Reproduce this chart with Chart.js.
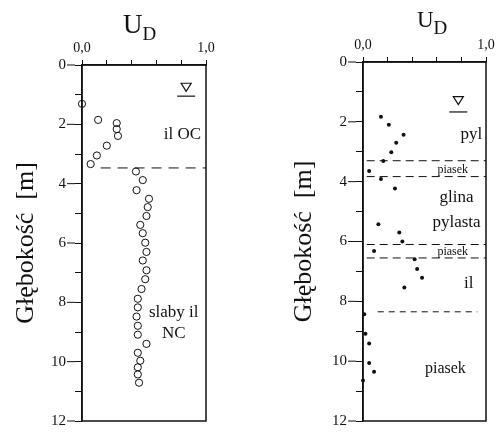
<!DOCTYPE html>
<html>
<head>
<meta charset="utf-8">
<script src="https://cdn.jsdelivr.net/npm/chart.js@4/dist/chart.umd.min.js"></script>
<style>
  body { margin: 0; background: #fff; }
  #wrap { position: relative; width: 498px; height: 439px; }
  canvas { position: absolute; top: 0; }
</style>
</head>
<body>
<div id="wrap">
  <canvas id="leftChart" width="249" height="439" style="left:0"></canvas>
  <canvas id="rightChart" width="249" height="439" style="left:249px"></canvas>
</div>
<script>
// lewy profil - ił (kółka puste)
const leftDepth = [1.31, 1.85, 1.96, 2.16, 2.39, 2.72, 3.05, 3.34,
  3.59, 3.88, 4.22, 4.51, 4.79, 5.09, 5.39, 5.67, 5.99, 6.30, 6.59, 6.92, 7.22,
  7.55, 7.88, 8.17, 8.48, 8.79, 9.09, 9.40, 9.70, 9.97, 10.19, 10.43, 10.71];
const leftUD = [0.00, 0.13, 0.28, 0.28, 0.29, 0.20, 0.12, 0.07,
  0.435, 0.49, 0.44, 0.54, 0.53, 0.52, 0.47, 0.49, 0.51, 0.52, 0.49, 0.52, 0.51,
  0.48, 0.45, 0.45, 0.44, 0.45, 0.45, 0.52, 0.45, 0.47, 0.45, 0.45, 0.46];

// prawy profil (punkty pełne)
const rightDepth = [1.83, 2.10, 2.43, 2.70, 3.02, 3.31, 3.64, 3.91, 4.23,
  5.42, 5.70, 6.00, 6.32, 6.59, 6.92, 7.21, 7.54,
  8.43, 9.08, 9.41, 10.06, 10.35, 10.65];
const rightUD = [0.146, 0.21, 0.33, 0.27, 0.23, 0.165, 0.05, 0.146, 0.26,
  0.125, 0.295, 0.32, 0.09, 0.42, 0.44, 0.48, 0.336,
  0.01, 0.02, 0.05, 0.05, 0.09, 0.00];

// granice warstw [m]
const leftLayers = [3.47];
const rightLayers = [3.30, 3.83, 6.10, 6.55];
const rightLayerSand = [8.35];

const xTickLabels = ["0,0", "1,0"];
const yTickLabels = [0, 2, 4, 6, 8, 10, 12];

const serif = "'Liberation Serif', 'Times New Roman', serif";

function toPoints(xs, ys) {
  return xs.map((x, i) => ({ x: x, y: ys[i] }));
}

// ramka, linie warstw, opisy
const decor = {
  id: "decor",
  afterDraw(chart, args, opts) {
    const ctx = chart.ctx;
    const a = chart.chartArea;
    const xs = chart.scales.x, ys = chart.scales.y;
    const px = v => xs.getPixelForValue(v);
    const py = v => ys.getPixelForValue(v);
    ctx.save();
    ctx.strokeStyle = "#111";
    ctx.lineWidth = 1.5;
    ctx.strokeRect(a.left, a.top, a.right - a.left, a.bottom - a.top);

    // dłuższe kreski przy opisanych podziałkach
    ctx.lineWidth = 1;
    yTickLabels.forEach(v => {
      ctx.beginPath();
      ctx.moveTo(a.left - 15, py(v));
      ctx.lineTo(a.left - 7, py(v));
      ctx.stroke();
    });

    (opts.lines || []).forEach(l => {
      ctx.setLineDash(l.dash);
      ctx.lineWidth = 1;
      ctx.beginPath();
      ctx.moveTo(px(l.from), py(l.depth));
      ctx.lineTo(px(l.to), py(l.depth));
      ctx.stroke();
    });
    ctx.setLineDash([]);

    // U_D
    const t = opts.title;
    ctx.fillStyle = "#111";
    ctx.textBaseline = "alphabetic";
    ctx.textAlign = "left";
    ctx.font = t.size + "px " + serif;
    ctx.fillText("U", t.x, t.y);
    const w = ctx.measureText("U").width;
    ctx.font = t.sub + "px " + serif;
    ctx.fillText("D", t.x + w, t.y + 7);

    // poziom wody
    const wl = opts.water;
    const wx = px(wl.u), wy = py(wl.d);
    ctx.lineWidth = 1.2;
    ctx.beginPath();
    ctx.moveTo(wx - 5, wy - 4);
    ctx.lineTo(wx + 5, wy - 4);
    ctx.lineTo(wx, wy + 4);
    ctx.closePath();
    ctx.stroke();
    ctx.beginPath();
    ctx.moveTo(wx - 9, py(wl.line));
    ctx.lineTo(wx + 9, py(wl.line));
    ctx.stroke();

    ctx.textAlign = "center";
    ctx.textBaseline = "middle";
    (opts.labels || []).forEach(l => {
      ctx.font = l.size + "px " + serif;
      ctx.fillText(l.text, px(l.u), py(l.d));
    });
    ctx.restore();
  }
};

function makeOptions(cfg) {
  return {
    responsive: false,
    animation: false,
    layout: { padding: cfg.padding },
    plugins: {
      legend: { display: false },
      tooltip: { enabled: false },
      decor: cfg.decor
    },
    scales: {
      x: {
        type: "linear",
        position: "top",
        min: 0, max: 1,
        grid: { drawOnChartArea: false, tickLength: 5, color: "#111" },
        border: { color: "#111", width: 1.5 },
        ticks: {
          stepSize: 0.2,
          padding: 3,
          color: "#111",
          font: { family: serif, size: 14 },
          maxRotation: 0,
          callback: v => (v === 0 ? xTickLabels[0] : (v === 1 ? xTickLabels[1] : ""))
        },
        afterFit: s => { s.height = cfg.xHeight; }
      },
      y: {
        type: "linear",
        position: "left",
        reverse: true,
        min: 0, max: 12,
        grid: { drawOnChartArea: false, tickLength: 7, color: "#111" },
        border: { color: "#111", width: 1.5 },
        ticks: {
          stepSize: 0.5,
          padding: 9,
          color: "#111",
          font: { family: serif, size: 15 },
          callback: v => (yTickLabels.includes(v) ? String(v) : "")
        },
        title: {
          display: true,
          text: "Głębokość  [m]",
          color: "#111",
          font: { family: serif, size: 26 },
          padding: { top: cfg.titlePad, bottom: 0 }
        },
        afterFit: s => { s.width = cfg.yWidth; }
      }
    }
  };
}

new Chart(document.getElementById("leftChart"), {
  type: "scatter",
  data: {
    datasets: [{
      data: toPoints(leftUD, leftDepth),
      clip: false,
      pointStyle: "circle",
      pointRadius: 3.6,
      borderWidth: 1,
      borderColor: "#111",
      backgroundColor: "rgba(0,0,0,0)"
    }]
  },
  options: makeOptions({
    padding: { left: 0, top: 0, right: 43, bottom: 6 },
    xHeight: 65,
    yWidth: 82,
    titlePad: 11,
    decor: {
      title: { x: 123, y: 33, size: 27, sub: 19 },
      water: { u: 0.84, d: 0.75, line: 1.05 },
      lines: leftLayers.map(d => ({ depth: d, from: 0.15, to: 1.0, dash: [10, 7] })),
      labels: [
        { text: "il OC", u: 0.81, d: 2.35, size: 17 },
        { text: "slaby il", u: 0.74, d: 8.33, size: 17 },
        { text: "NC", u: 0.74, d: 9.04, size: 17 }
      ]
    }
  }),
  plugins: [decor]
});

new Chart(document.getElementById("rightChart"), {
  type: "scatter",
  data: {
    datasets: [{
      data: toPoints(rightUD, rightDepth),
      clip: false,
      pointStyle: "circle",
      pointRadius: 2,
      borderWidth: 0,
      backgroundColor: "#111"
    }]
  },
  options: makeOptions({
    padding: { left: 30, top: 0, right: 12, bottom: 7 },
    xHeight: 62,
    yWidth: 84,
    titlePad: 10,
    decor: {
      title: { x: 417 - 249, y: 27, size: 23, sub: 19 },
      water: { u: 0.775, d: 1.29, line: 1.67 },
      lines: rightLayers.map(d => ({ depth: d, from: 0.03, to: 1.0, dash: [8, 5] }))
        .concat(rightLayerSand.map(d => ({ depth: d, from: 0.12, to: 0.93, dash: [6, 5] }))),
      labels: [
        { text: "pyl", u: 0.88, d: 2.43, size: 17 },
        { text: "piasek", u: 0.73, d: 3.59, size: 12 },
        { text: "glina", u: 0.76, d: 4.54, size: 17 },
        { text: "pylasta", u: 0.76, d: 5.37, size: 17 },
        { text: "piasek", u: 0.73, d: 6.34, size: 12 },
        { text: "il", u: 0.86, d: 7.40, size: 17 },
        { text: "piasek", u: 0.67, d: 10.24, size: 16 }
      ]
    }
  }),
  plugins: [decor]
});
</script>
</body>
</html>
